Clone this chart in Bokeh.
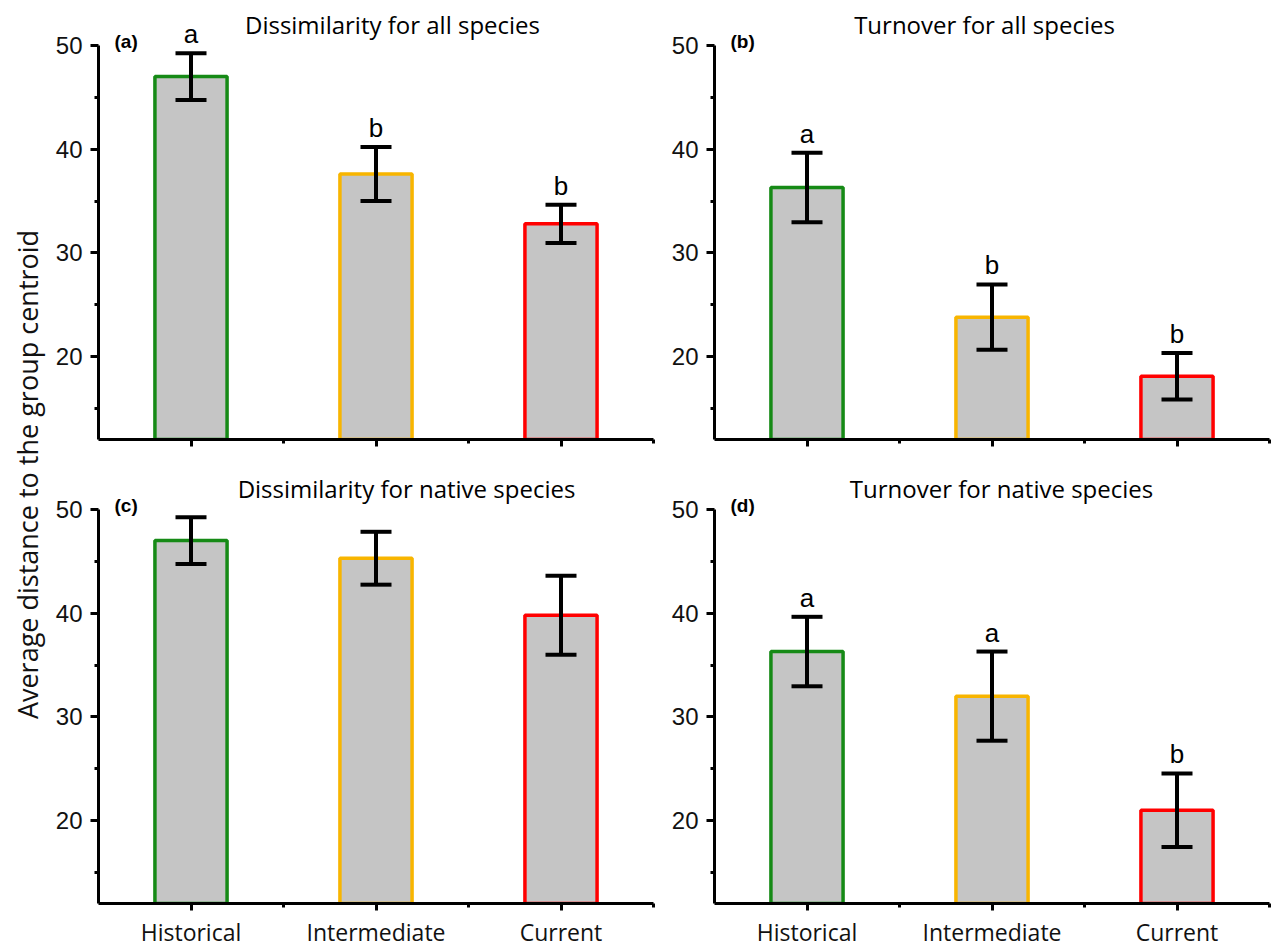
import math
from bokeh.plotting import figure
from bokeh.models import (Range1d, FixedTicker, Whisker, TeeHead,
                          ColumnDataSource, Label)
from bokeh.layouts import row, column
from bokeh.core.properties import value
from bokeh.embed import file_html
from bokeh.resources import INLINE

# ---------------- data ----------------
categories = ["Historical", "Intermediate", "Current"]
edge_colors = ["#168a16", "#f8b500", "#ff0000"]
bar_fill = "#c5c5c5"

y_axis_title = "Average distance to the group centroid"
titles = ["Dissimilarity for all species", "Turnover for all species",
          "Dissimilarity for native species", "Turnover for native species"]
tags = ["(a)", "(b)", "(c)", "(d)"]

mean_a = [47.0, 37.6, 32.8]
se_a = [2.25, 2.6, 1.85]
letters_a = ["a", "b", "b"]

mean_b = [36.3, 23.8, 18.1]
se_b = [3.35, 3.15, 2.25]
letters_b = ["a", "b", "b"]

mean_c = [47.0, 45.3, 39.8]
se_c = [2.25, 2.55, 3.8]
letters_c = []

mean_d = [36.3, 32.0, 21.0]
se_d = [3.35, 4.3, 3.55]
letters_d = ["a", "a", "b"]

y_ticks = [20, 30, 40, 50]
y_minor = [15, 25, 35, 45]
y_lo, y_hi = 12, 50

AXIS_H = 394          # pixels between y_lo and y_hi
FRAME_W = 555
LAB_W = 50


def panel(mean, se, letters, title, tag, show_labels,
          mbl, mbr, mbt, mbb, extra_top, title_px):
    n = len(categories)
    xs = [i + 1 for i in range(n)]
    px_x = FRAME_W / n
    px_y = AXIS_H / (y_hi - y_lo)
    y_top = y_hi + extra_top / px_y

    src = ColumnDataSource(dict(
        x=xs, mean=mean,
        upper=[m + s for m, s in zip(mean, se)],
        lower=[m - s for m, s in zip(mean, se)],
        color=edge_colors,
    ))
    p = figure(frame_width=FRAME_W, frame_height=AXIS_H + extra_top,
               x_range=Range1d(0.5, n + 0.5), y_range=Range1d(y_lo, y_top),
               output_backend="svg", toolbar_location=None,
               min_border_left=mbl, min_border_right=mbr,
               min_border_top=mbt, min_border_bottom=mbb,
               background_fill_color="white", border_fill_color="white")
    p.outline_line_color = None
    p.grid.visible = False

    p.vbar(x="x", top="mean", bottom=0, width=0.39, fill_color=bar_fill,
           line_color="color", line_width=3.5, source=src)

    head_u = TeeHead(size=31, line_width=4, line_color="black")
    head_l = TeeHead(size=31, line_width=4, line_color="black")
    w = Whisker(base="x", upper="upper", lower="lower", source=src,
                line_width=4, line_color="black", level="annotation",
                upper_head=head_u, lower_head=head_l)
    p.add_layout(w)

    if letters:
        lsrc = ColumnDataSource(dict(
            x=xs, y=[m + s + 19 / px_y for m, s in zip(mean, se)],
            t=letters))
        p.text(x="x", y="y", text="t", source=lsrc,
               text_align="center", text_baseline="alphabetic",
               text_font=value("Liberation Sans"), text_font_size="26px",
               text_color="black")

    p.add_layout(Label(x=0.5 + title_px / px_x, y=y_hi + 21 / px_y,
                       text=title, text_align="center",
                       text_baseline="alphabetic", text_font="Open Sans",
                       text_font_size="24px", text_color="black"))
    p.add_layout(Label(x=0.5 + 16 / px_x, y=y_hi + 4 / px_y, text=tag,
                       text_align="left", text_baseline="middle",
                       text_font="Liberation Sans", text_font_style="bold",
                       text_font_size="19px", text_color="black"))

    # axes
    for ax in (p.xaxis[0], p.yaxis[0]):
        ax.axis_line_width = 3
        ax.axis_line_color = "black"
        ax.major_tick_line_width = 3
        ax.minor_tick_line_width = 3
        ax.major_tick_line_color = "black"
        ax.minor_tick_line_color = "black"
        ax.major_tick_in = 0
        ax.minor_tick_in = 0

    p.yaxis.bounds = (y_lo, y_hi)
    p.yaxis.ticker = FixedTicker(ticks=y_ticks, minor_ticks=y_minor)
    p.yaxis.major_tick_out = 8
    p.yaxis.minor_tick_out = 4
    p.yaxis.major_label_standoff = 8
    p.yaxis.major_label_text_font = "Liberation Sans"
    p.yaxis.major_label_text_font_size = "24px"
    p.yaxis.major_label_text_color = "#111111"

    p.xaxis.ticker = FixedTicker(ticks=xs,
                                 minor_ticks=[x + 0.5 for x in xs])
    p.xaxis.major_tick_out = 7
    p.xaxis.minor_tick_out = 4
    if show_labels:
        p.xaxis.major_label_overrides = {x: c for x, c in zip(xs, categories)}
        p.xaxis.major_label_text_font = "Open Sans"
        p.xaxis.major_label_text_font_size = "23px"
        p.xaxis.major_label_standoff = 5
        p.xaxis.major_label_text_color = "#111111"
    else:
        p.xaxis.major_label_overrides = {x: "" for x in xs}
        p.xaxis.major_label_text_font_size = "1px"
        p.xaxis.major_label_standoff = 0
    return p


pa = panel(mean_a, se_a, letters_a, titles[0], tags[0], False,
           98 - LAB_W, 10, 4, 30, 41, 294)
pb = panel(mean_b, se_b, letters_b, titles[1], tags[1], False,
           51, 5, 4, 30, 41, 270)
pc = panel(mean_c, se_c, letters_c, titles[2], tags[2], True,
           98 - LAB_W, 10, 4, 44, 36, 308)
pd = panel(mean_d, se_d, letters_d, titles[3], tags[3], True,
           51, 5, 4, 44, 36, 287)

TOTAL_H = (4 + AXIS_H + 41 + 30) + (4 + AXIS_H + 36 + 44)
lab = figure(width=LAB_W, height=TOTAL_H, x_range=Range1d(0, 1),
             y_range=Range1d(0, 1), output_backend="svg",
             toolbar_location=None, min_border=0,
             x_axis_type=None, y_axis_type=None,
             background_fill_color="white", border_fill_color="white")
lab.outline_line_color = None
lab.grid.visible = False
lab.add_layout(Label(x=27 / LAB_W, y=1 - 474 / TOTAL_H, angle=math.pi / 2,
                     text=y_axis_title, text_align="center",
                     text_baseline="middle", text_font="Open Sans",
                     text_font_size="27px", text_color="#111111"))

layout = row(lab, column(row(pa, pb), row(pc, pd)))

open("out.html", "w").write(file_html(layout, INLINE))
